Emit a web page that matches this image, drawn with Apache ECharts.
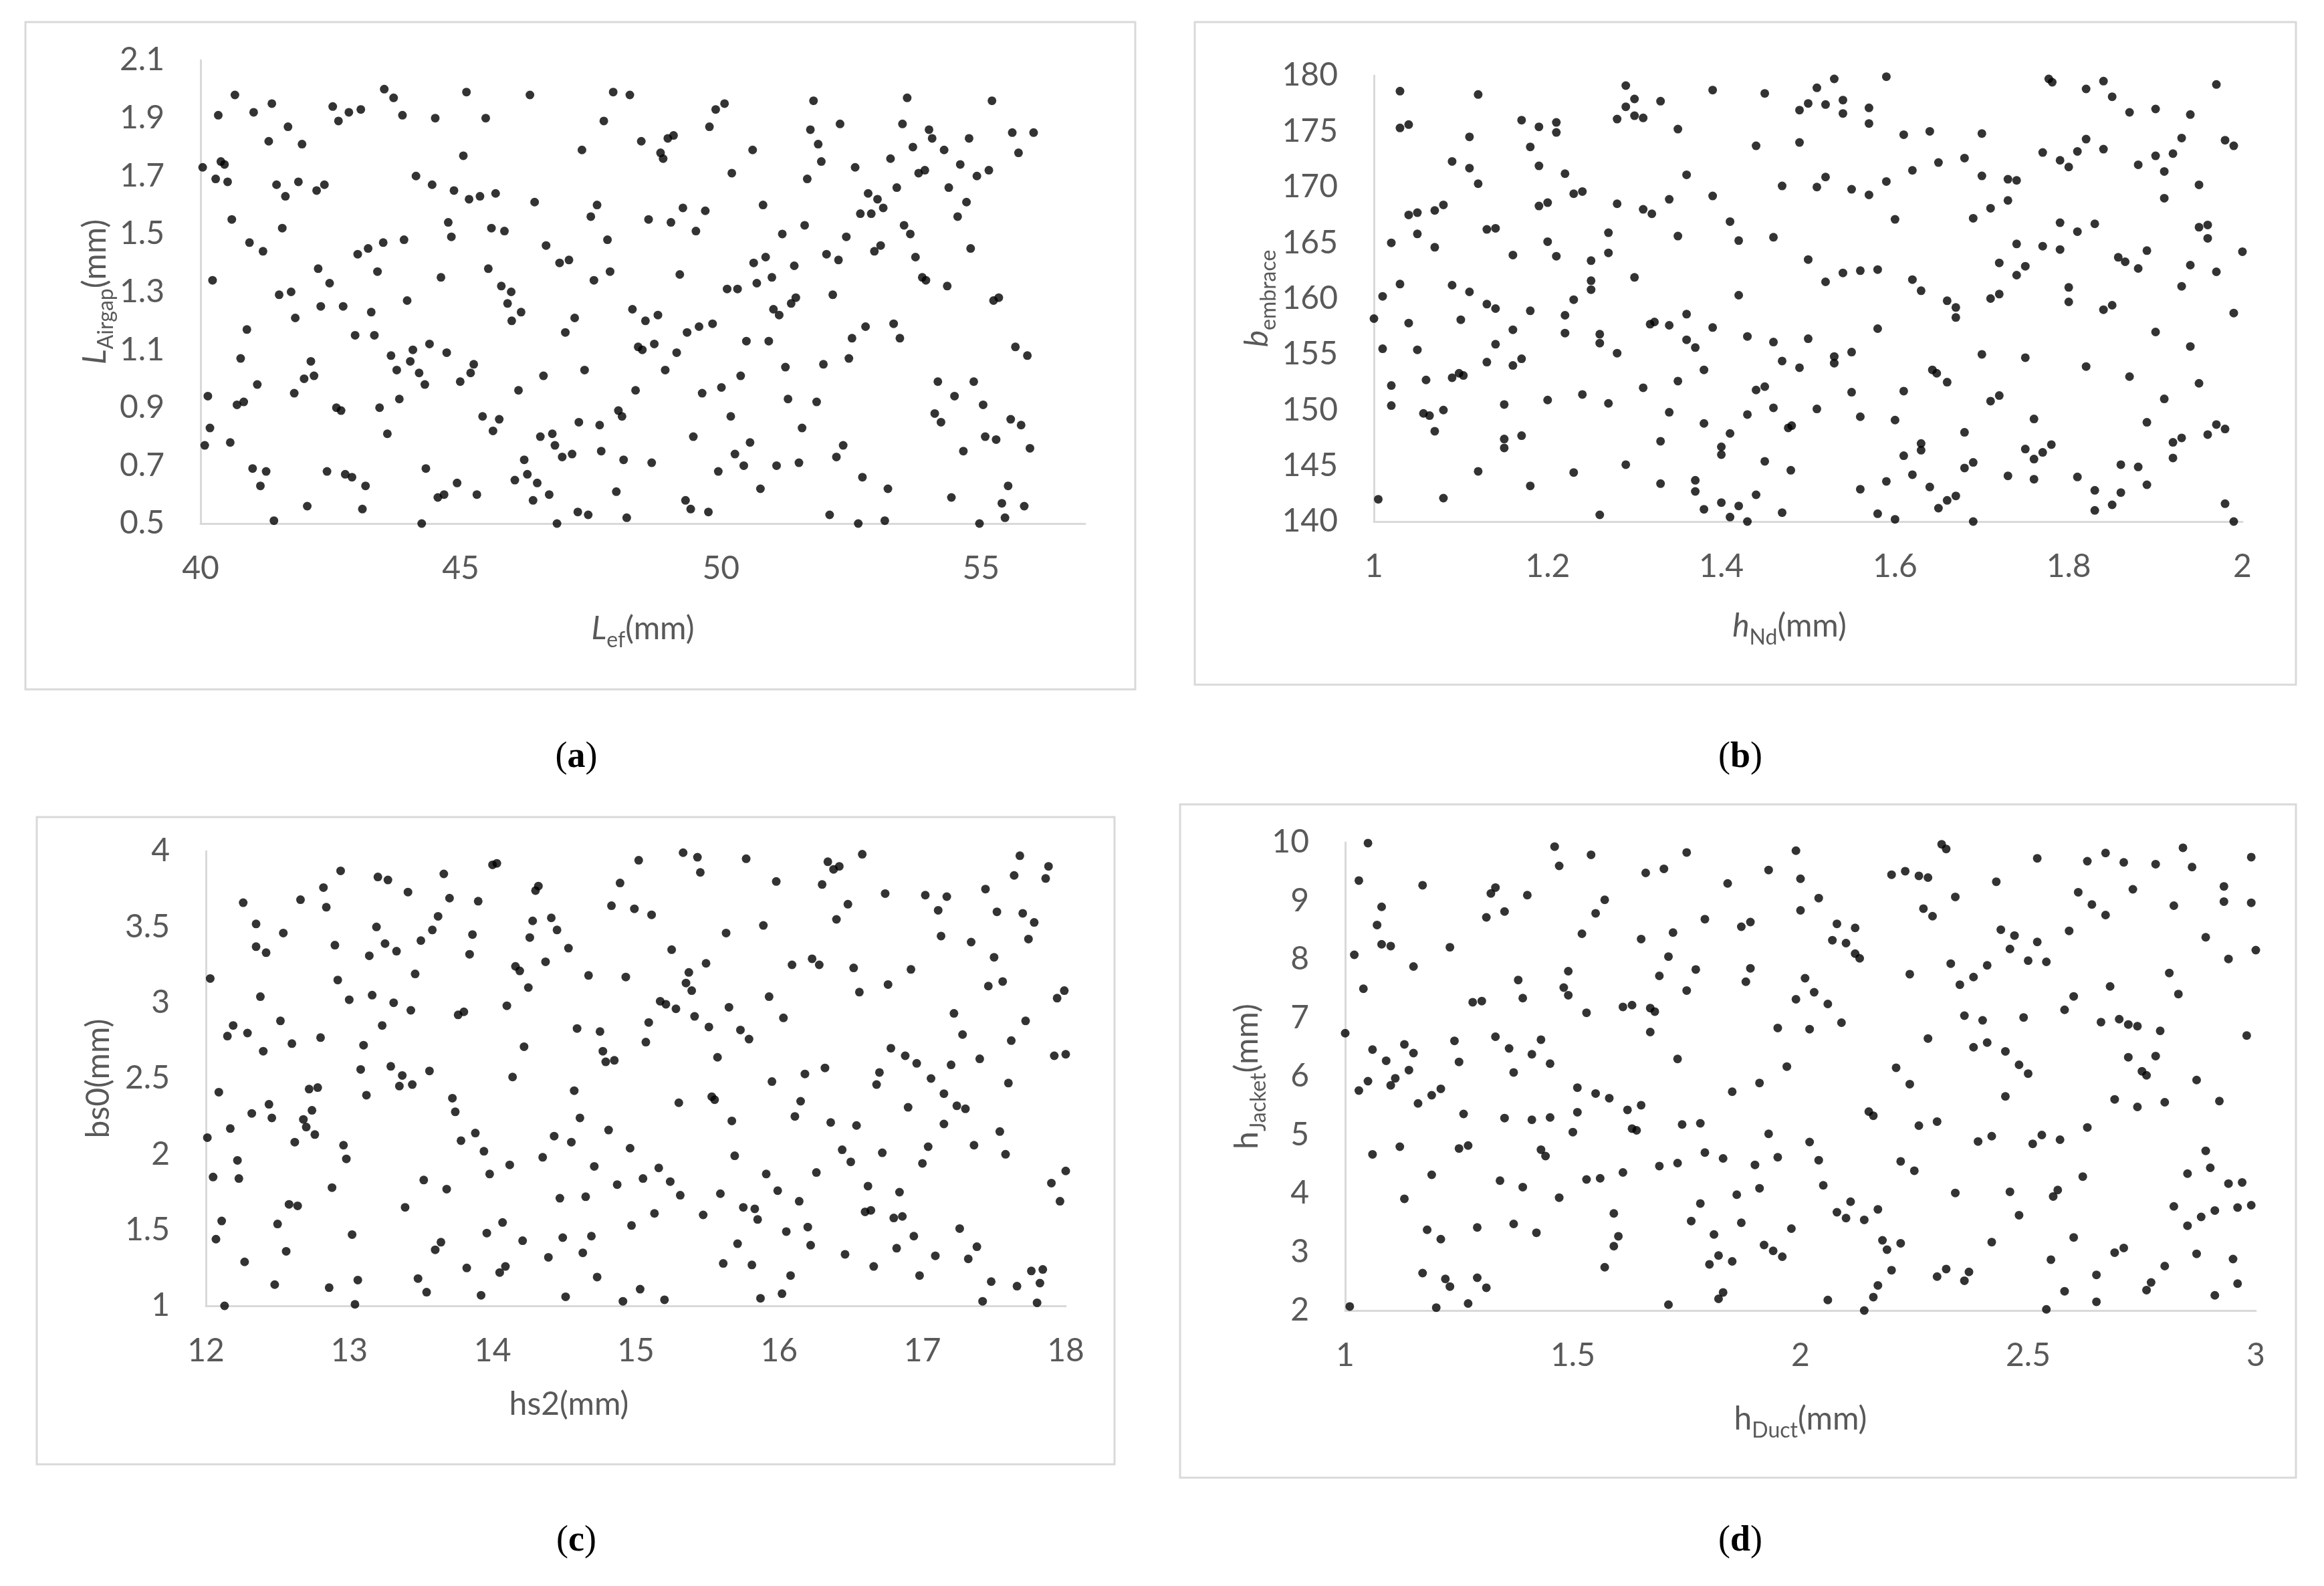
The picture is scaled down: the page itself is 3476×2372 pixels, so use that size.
<!DOCTYPE html>
<html>
<head>
<meta charset="utf-8">
<title>Design variable samples</title>
<script src="https://cdn.jsdelivr.net/npm/echarts@6/dist/echarts.min.js"></script>
<style>
  html, body { margin: 0; padding: 0; background: #ffffff; }
  #chart { width: 3476px; height: 2372px; }
</style>
</head>
<body>
<div id="chart"></div>
<script>
// (a) L_ef (mm) vs L_Airgap (mm)
const lefAirgap = [
  [43.53, 2.00], [47.93, 1.99], [48.25, 1.98], [45.11, 1.99], [40.66, 1.98], [46.33, 1.98], [43.71, 1.97],
  [41.37, 1.95], [42.54, 1.94], [41.02, 1.92], [43.08, 1.93], [42.85, 1.92], [40.34, 1.91], [43.88, 1.91],
  [44.51, 1.90], [45.48, 1.90], [42.65, 1.89], [47.75, 1.89], [41.68, 1.87], [41.31, 1.82], [48.47, 1.82],
  [41.95, 1.81], [47.33, 1.79], [45.05, 1.77], [40.04, 1.73], [40.39, 1.75], [40.46, 1.74], [40.29, 1.69],
  [40.52, 1.68], [44.14, 1.70], [41.46, 1.67], [41.88, 1.68], [42.38, 1.67], [42.23, 1.65], [44.45, 1.67],
  [44.87, 1.65], [45.67, 1.64], [45.16, 1.62], [45.37, 1.63], [41.63, 1.63], [46.42, 1.61], [47.62, 1.60],
  [47.50, 1.56], [40.60, 1.55], [44.76, 1.54], [45.59, 1.52], [45.84, 1.51], [48.61, 1.55], [41.57, 1.52],
  [44.82, 1.49], [40.94, 1.47], [41.20, 1.44], [43.02, 1.43], [43.22, 1.45], [43.51, 1.47], [43.91, 1.48],
  [46.64, 1.46], [47.82, 1.48], [46.90, 1.40], [47.08, 1.41], [42.26, 1.38], [43.40, 1.37], [45.53, 1.38],
  [40.23, 1.34], [44.62, 1.35], [47.56, 1.34], [47.87, 1.37], [42.48, 1.33], [41.51, 1.29], [41.74, 1.30],
  [45.78, 1.32], [45.97, 1.30], [43.97, 1.27], [42.31, 1.25], [42.74, 1.25], [43.28, 1.23], [45.90, 1.26],
  [46.16, 1.23], [41.82, 1.21], [45.98, 1.20], [48.30, 1.24], [48.55, 1.20], [47.19, 1.21], [40.89, 1.17],
  [47.01, 1.16], [42.97, 1.15], [43.34, 1.15], [44.40, 1.12], [44.08, 1.10], [48.41, 1.11], [48.49, 1.10],
  [48.72, 1.12], [40.77, 1.07], [43.66, 1.08], [44.73, 1.09], [42.12, 1.06], [44.03, 1.06], [43.77, 1.03],
  [45.25, 1.05], [45.19, 1.02], [44.20, 1.02], [41.99, 1.00], [42.18, 1.01], [46.59, 1.01], [47.38, 1.03],
  [41.09, 0.98], [44.31, 0.98], [44.99, 0.99], [48.36, 0.96], [40.14, 0.94], [41.80, 0.95], [46.11, 0.96],
  [40.70, 0.91], [40.83, 0.92], [42.61, 0.90], [42.70, 0.89], [43.44, 0.90], [43.82, 0.93], [48.03, 0.89],
  [48.10, 0.87], [45.42, 0.87], [45.74, 0.86], [40.18, 0.83], [43.59, 0.81], [45.62, 0.82], [47.27, 0.85],
  [47.67, 0.84], [46.53, 0.80], [46.76, 0.81], [46.81, 0.77], [40.08, 0.77], [40.57, 0.78], [46.95, 0.73],
  [47.14, 0.74], [47.70, 0.75], [48.13, 0.72], [48.67, 0.71], [46.22, 0.72], [41.00, 0.69], [41.26, 0.68],
  [42.43, 0.68], [44.33, 0.69], [46.28, 0.67], [46.04, 0.65], [46.47, 0.64], [42.78, 0.67], [42.91, 0.66],
  [43.17, 0.63], [44.93, 0.64], [41.15, 0.63], [46.70, 0.60], [47.99, 0.61], [45.31, 0.60], [44.56, 0.59],
  [44.68, 0.60], [46.39, 0.58], [42.05, 0.56], [43.11, 0.55], [47.25, 0.54], [47.45, 0.53], [48.19, 0.52],
  [41.41, 0.51], [44.25, 0.50], [46.85, 0.50],
  [53.58, 1.97], [55.21, 1.96], [50.07, 1.95], [49.90, 1.93], [51.78, 1.96], [49.78, 1.87], [52.29, 1.88],
  [53.49, 1.88], [54.00, 1.86], [54.06, 1.83], [56.01, 1.85], [55.60, 1.85], [54.77, 1.83], [51.72, 1.86],
  [51.87, 1.81], [48.98, 1.83], [49.09, 1.84], [50.61, 1.79], [53.69, 1.80], [55.72, 1.78], [54.29, 1.79],
  [48.84, 1.78], [48.89, 1.76], [53.26, 1.76], [51.93, 1.75], [52.58, 1.73], [53.80, 1.71], [53.92, 1.72],
  [54.60, 1.74], [54.92, 1.70], [55.15, 1.72], [50.21, 1.71], [51.66, 1.69], [54.38, 1.66], [53.38, 1.66],
  [52.83, 1.64], [53.01, 1.62], [53.12, 1.59], [54.72, 1.61], [52.68, 1.57], [52.89, 1.57], [50.81, 1.60],
  [49.27, 1.59], [49.70, 1.58], [49.04, 1.54], [49.52, 1.51], [54.55, 1.56], [51.61, 1.53], [51.18, 1.50],
  [53.52, 1.53], [53.64, 1.50], [52.41, 1.49], [52.95, 1.44], [53.07, 1.46], [54.80, 1.45], [52.03, 1.43],
  [52.26, 1.41], [50.86, 1.42], [50.63, 1.40], [51.41, 1.39], [53.74, 1.42], [49.21, 1.36], [50.98, 1.35],
  [50.69, 1.33], [50.12, 1.31], [50.32, 1.31], [53.87, 1.35], [53.94, 1.34], [54.35, 1.32], [52.15, 1.29],
  [55.24, 1.27], [55.34, 1.28], [51.44, 1.28], [51.35, 1.26], [51.01, 1.24], [51.12, 1.22], [48.79, 1.22],
  [49.35, 1.16], [49.58, 1.18], [49.84, 1.19], [52.78, 1.18], [53.32, 1.19], [53.44, 1.14], [52.52, 1.14],
  [50.49, 1.13], [50.92, 1.13], [49.15, 1.09], [55.66, 1.11], [55.89, 1.08], [52.46, 1.07], [51.97, 1.05],
  [51.24, 1.04], [48.93, 1.03], [50.38, 1.01], [54.17, 0.99], [54.86, 0.99], [54.49, 0.94], [55.04, 0.91],
  [49.64, 0.95], [50.01, 0.97], [51.29, 0.93], [51.84, 0.92], [50.19, 0.87], [54.11, 0.88], [54.23, 0.85],
  [55.57, 0.86], [55.77, 0.84], [51.56, 0.83], [49.47, 0.80], [50.56, 0.78], [55.08, 0.80], [55.29, 0.79],
  [55.94, 0.76], [52.35, 0.77], [52.22, 0.73], [54.66, 0.75], [50.27, 0.74], [50.44, 0.70], [49.95, 0.68],
  [51.07, 0.70], [51.50, 0.71], [52.72, 0.66], [50.76, 0.62], [53.21, 0.62], [55.52, 0.63], [54.43, 0.59],
  [55.40, 0.57], [55.83, 0.56], [49.32, 0.58], [49.42, 0.55], [49.76, 0.54], [52.09, 0.53], [52.64, 0.50],
  [53.15, 0.51], [55.46, 0.52], [54.97, 0.50]
];

// (b) h_Nd (mm) vs b_embrace
const hNdEmbrace = [
  [1.03, 178.6], [1.12, 178.3], [1.29, 179.1], [1.30, 177.9], [1.29, 177.2], [1.39, 178.7], [1.45, 178.4],
  [1.33, 177.7], [1.03, 175.3], [1.04, 175.6], [1.11, 174.5], [1.17, 176.0], [1.19, 175.4], [1.21, 175.8],
  [1.21, 174.9], [1.28, 176.1], [1.30, 176.4], [1.31, 176.2], [1.35, 175.2], [1.18, 173.6], [1.44, 173.7],
  [1.09, 172.3], [1.11, 171.7], [1.19, 171.9], [1.12, 170.3], [1.22, 171.2], [1.36, 171.1], [1.47, 170.1],
  [1.23, 169.4], [1.24, 169.6], [1.39, 169.2], [1.19, 168.3], [1.20, 168.6], [1.28, 168.5], [1.31, 168.0],
  [1.32, 167.6], [1.34, 168.9], [1.04, 167.5], [1.05, 167.7], [1.07, 167.9], [1.08, 168.4], [1.41, 166.9],
  [1.13, 166.2], [1.14, 166.3], [1.05, 165.8], [1.35, 165.6], [1.42, 165.2], [1.46, 165.5], [1.02, 165.0],
  [1.07, 164.6], [1.16, 163.9], [1.20, 165.1], [1.21, 163.8], [1.27, 165.9], [1.27, 164.1], [1.25, 163.4],
  [1.30, 161.9], [1.25, 161.6], [1.25, 160.8], [1.03, 161.3], [1.09, 161.2], [1.11, 160.6], [1.42, 160.3],
  [1.01, 160.2], [1.23, 159.9], [1.13, 159.5], [1.14, 159.1], [1.18, 158.9], [1.00, 158.2], [1.04, 157.8],
  [1.10, 158.1], [1.22, 158.5], [1.318, 157.7], [1.323, 157.9], [1.34, 157.6], [1.36, 158.6], [1.39, 157.4],
  [1.16, 157.2], [1.22, 156.9], [1.26, 156.8], [1.26, 156.0], [1.43, 156.6], [1.46, 156.1], [1.36, 156.3],
  [1.37, 155.6], [1.01, 155.5], [1.05, 155.4], [1.14, 155.9], [1.28, 155.1], [1.13, 154.3], [1.16, 154.0],
  [1.17, 154.6], [1.47, 154.4], [1.38, 153.6], [1.02, 152.2], [1.06, 152.7], [1.09, 152.9], [1.098, 153.3],
  [1.103, 153.1], [1.35, 152.6], [1.31, 152.0], [1.44, 151.8], [1.45, 152.1], [1.02, 150.4], [1.057, 149.7],
  [1.064, 149.5], [1.08, 150.0], [1.15, 150.5], [1.20, 150.9], [1.24, 151.4], [1.27, 150.6], [1.34, 149.8],
  [1.46, 150.2], [1.43, 149.6], [1.38, 148.8], [1.07, 148.1], [1.477, 148.4], [1.481, 148.6], [1.41, 147.9],
  [1.15, 147.4], [1.17, 147.7], [1.15, 146.6], [1.33, 147.2], [1.40, 146.7], [1.40, 146.0], [1.12, 144.5],
  [1.23, 144.4], [1.29, 145.1], [1.45, 145.4], [1.48, 144.6], [1.18, 143.2], [1.33, 143.4], [1.37, 143.7],
  [1.37, 142.7], [1.44, 142.4], [1.005, 142.0], [1.08, 142.1], [1.40, 141.7], [1.42, 141.4], [1.38, 141.1],
  [1.47, 140.8], [1.26, 140.6], [1.41, 140.4], [1.43, 140.0],
  [1.53, 179.7], [1.59, 179.9], [1.777, 179.7], [1.781, 179.4], [1.84, 179.5], [1.82, 178.8], [1.97, 179.2],
  [1.51, 178.9], [1.50, 177.5], [1.52, 177.4], [1.54, 177.8], [1.54, 176.6], [1.49, 176.9], [1.57, 177.1],
  [1.57, 175.7], [1.85, 178.1], [1.87, 176.7], [1.90, 177.0], [1.94, 176.5], [1.49, 174.0], [1.61, 174.7],
  [1.64, 175.0], [1.70, 174.8], [1.82, 174.3], [1.93, 174.4], [1.77, 173.1], [1.79, 172.4], [1.80, 171.8],
  [1.81, 173.2], [1.84, 173.4], [1.88, 172.0], [1.90, 172.8], [1.92, 173.0], [1.91, 171.4], [1.98, 174.2],
  [1.99, 173.7], [1.68, 172.6], [1.65, 172.2], [1.62, 171.5], [1.52, 170.9], [1.51, 170.0], [1.55, 169.8],
  [1.57, 169.3], [1.59, 170.5], [1.70, 171.0], [1.73, 170.7], [1.74, 170.6], [1.95, 170.2], [1.91, 169.0],
  [1.73, 168.8], [1.71, 168.1], [1.69, 167.2], [1.60, 167.1], [1.79, 166.8], [1.81, 166.0], [1.83, 166.7],
  [1.95, 166.4], [1.96, 166.6], [1.96, 165.4], [1.74, 164.9], [1.77, 164.7], [1.79, 164.4], [1.89, 164.3],
  [2.00, 164.2], [1.50, 163.5], [1.72, 163.2], [1.75, 162.9], [1.74, 162.1], [1.857, 163.7], [1.865, 163.3],
  [1.88, 162.7], [1.94, 163.0], [1.97, 162.4], [1.52, 161.5], [1.54, 162.3], [1.56, 162.5], [1.58, 162.6],
  [1.62, 161.7], [1.63, 160.7], [1.93, 161.1], [1.80, 161.0], [1.71, 160.0], [1.72, 160.4], [1.80, 159.7],
  [1.66, 159.8], [1.67, 159.2], [1.67, 158.3], [1.84, 159.0], [1.85, 159.4], [1.99, 158.7], [1.58, 157.3],
  [1.50, 156.4], [1.90, 157.0], [1.94, 155.7], [1.53, 154.8], [1.53, 154.2], [1.55, 155.2], [1.70, 155.0],
  [1.75, 154.7], [1.49, 153.8], [1.82, 153.9], [1.643, 153.6], [1.648, 153.3], [1.66, 152.5], [1.87, 153.0],
  [1.95, 152.4], [1.55, 151.6], [1.61, 151.7], [1.71, 150.8], [1.72, 151.3], [1.51, 150.1], [1.56, 149.4],
  [1.60, 149.1], [1.76, 149.2], [1.91, 151.0], [1.89, 148.9], [1.68, 148.0], [1.97, 148.7], [1.98, 148.3],
  [1.96, 147.8], [1.63, 147.0], [1.63, 146.4], [1.61, 145.9], [1.92, 147.1], [1.93, 147.5], [1.75, 146.5],
  [1.76, 145.6], [1.77, 146.2], [1.78, 146.9], [1.92, 145.7], [1.68, 144.8], [1.69, 145.3], [1.86, 145.1],
  [1.88, 144.9], [1.62, 144.2], [1.59, 143.6], [1.73, 144.1], [1.76, 143.8], [1.81, 144.0], [1.56, 142.9],
  [1.64, 143.1], [1.83, 142.8], [1.89, 143.3], [1.86, 142.6], [1.67, 142.3], [1.66, 141.9], [1.65, 141.2],
  [1.85, 141.5], [1.83, 141.0], [1.98, 141.6], [1.58, 140.7], [1.60, 140.2], [1.69, 140.0], [1.99, 140.0]
];

// (c) hs2 (mm) vs bs0 (mm)
const hs2Bs0 = [
  [14.00, 3.91], [14.03, 3.92], [12.94, 3.87], [13.20, 3.83], [13.27, 3.81], [13.66, 3.85], [14.89, 3.79],
  [12.82, 3.76], [14.30, 3.74], [14.32, 3.77], [13.41, 3.73], [13.70, 3.69], [12.26, 3.66], [12.66, 3.68],
  [13.90, 3.67], [12.84, 3.63], [14.83, 3.64], [12.35, 3.52], [13.19, 3.50], [13.62, 3.57], [14.28, 3.54],
  [14.41, 3.56], [14.45, 3.48], [12.54, 3.46], [13.58, 3.48], [13.86, 3.45], [13.50, 3.41], [14.26, 3.43],
  [12.35, 3.37], [12.42, 3.33], [12.90, 3.38], [13.25, 3.39], [13.33, 3.34], [13.14, 3.31], [13.84, 3.32],
  [14.53, 3.36], [14.37, 3.27], [14.16, 3.24], [14.19, 3.21], [13.46, 3.19], [14.67, 3.18], [14.93, 3.17],
  [12.03, 3.16], [12.92, 3.15], [14.25, 3.10], [12.38, 3.04], [13.00, 3.02], [13.16, 3.05], [13.31, 3.00],
  [13.43, 2.95], [14.10, 2.98], [13.76, 2.92], [13.80, 2.94], [12.52, 2.88], [13.23, 2.85], [12.19, 2.85],
  [12.15, 2.78], [12.29, 2.80], [14.59, 2.83], [14.75, 2.81], [12.80, 2.77], [13.10, 2.72], [12.60, 2.73],
  [12.40, 2.68], [14.22, 2.71], [14.77, 2.68], [14.79, 2.61], [14.85, 2.62], [13.08, 2.56], [13.29, 2.58],
  [13.37, 2.52], [13.56, 2.55], [13.35, 2.45], [13.44, 2.46], [14.14, 2.51], [13.12, 2.39], [12.72, 2.43],
  [12.78, 2.44], [12.09, 2.41], [14.57, 2.42], [13.72, 2.37], [13.74, 2.28], [12.44, 2.33], [12.32, 2.27],
  [12.46, 2.24], [12.74, 2.29], [12.68, 2.23], [12.70, 2.18], [14.61, 2.24], [12.17, 2.17], [12.76, 2.13],
  [14.81, 2.16], [12.01, 2.11], [12.62, 2.08], [13.78, 2.09], [13.88, 2.14], [14.43, 2.12], [14.55, 2.08],
  [12.96, 2.06], [13.94, 2.02], [12.98, 1.97], [14.35, 1.98], [14.71, 1.92], [12.22, 1.96], [14.12, 1.93],
  [12.05, 1.85], [12.23, 1.84], [13.98, 1.87], [13.52, 1.83], [14.87, 1.80], [12.88, 1.78], [13.68, 1.77],
  [12.58, 1.67], [12.64, 1.66], [13.39, 1.65], [14.47, 1.71], [14.65, 1.72], [12.11, 1.56], [12.50, 1.54],
  [14.07, 1.55], [12.07, 1.44], [13.02, 1.47], [13.96, 1.48], [14.21, 1.43], [14.49, 1.45], [14.69, 1.46],
  [13.64, 1.42], [13.60, 1.37], [12.56, 1.36], [14.39, 1.32], [14.63, 1.35], [12.27, 1.29], [13.82, 1.25],
  [14.05, 1.22], [14.09, 1.26], [14.73, 1.19], [12.48, 1.14], [12.86, 1.12], [13.06, 1.17], [13.48, 1.18],
  [13.54, 1.09], [13.92, 1.07], [14.51, 1.06], [14.91, 1.03], [12.13, 1.00], [13.04, 1.01],
  [15.02, 3.94], [15.33, 3.99], [15.43, 3.96], [15.77, 3.95], [15.45, 3.86], [16.34, 3.93], [16.38, 3.88],
  [16.42, 3.90], [16.58, 3.98], [16.30, 3.78], [15.98, 3.80], [17.68, 3.97], [17.88, 3.90], [17.64, 3.84],
  [17.86, 3.82], [16.74, 3.72], [17.02, 3.71], [17.17, 3.70], [17.44, 3.75], [16.48, 3.65], [16.40, 3.55],
  [17.11, 3.61], [17.52, 3.60], [17.70, 3.59], [17.78, 3.53], [14.99, 3.62], [15.11, 3.58], [15.89, 3.51],
  [15.63, 3.46], [17.13, 3.44], [17.34, 3.40], [17.74, 3.42], [15.25, 3.35], [15.49, 3.26], [15.37, 3.20],
  [15.35, 3.13], [15.39, 3.08], [16.09, 3.25], [16.23, 3.29], [16.28, 3.25], [16.52, 3.23], [16.92, 3.22],
  [16.76, 3.12], [17.50, 3.30], [17.56, 3.14], [17.46, 3.11], [15.93, 3.04], [16.56, 3.07], [17.99, 3.08],
  [17.94, 3.03], [15.17, 3.01], [15.21, 2.99], [15.28, 2.96], [15.65, 2.97], [15.41, 2.91], [16.03, 2.90],
  [17.22, 2.93], [15.09, 2.87], [15.51, 2.84], [15.73, 2.82], [15.79, 2.76], [15.07, 2.74], [17.28, 2.79],
  [17.72, 2.88], [17.62, 2.75], [15.57, 2.64], [16.78, 2.70], [16.88, 2.65], [16.96, 2.60], [17.40, 2.63],
  [17.92, 2.65], [18.00, 2.66], [16.32, 2.57], [16.18, 2.53], [15.95, 2.48], [16.70, 2.54], [16.68, 2.46],
  [17.20, 2.59], [17.06, 2.50], [17.60, 2.47], [15.30, 2.34], [15.53, 2.38], [15.55, 2.36], [16.15, 2.35],
  [16.11, 2.25], [17.15, 2.40], [17.24, 2.32], [17.30, 2.30], [16.90, 2.31], [15.67, 2.22], [16.36, 2.21],
  [16.54, 2.19], [17.15, 2.20], [17.54, 2.15], [14.96, 2.04], [15.69, 1.99], [16.44, 2.03], [16.50, 1.95],
  [16.72, 2.01], [17.04, 2.05], [17.00, 1.94], [17.36, 2.06], [17.58, 2.00], [15.16, 1.91], [15.05, 1.84],
  [15.24, 1.82], [15.31, 1.73], [15.59, 1.74], [15.91, 1.87], [15.99, 1.76], [16.26, 1.88], [16.62, 1.79],
  [16.84, 1.75], [17.90, 1.81], [18.00, 1.89], [17.96, 1.69], [16.14, 1.69], [15.75, 1.65], [15.83, 1.64],
  [15.85, 1.57], [15.13, 1.61], [15.47, 1.60], [14.97, 1.53], [16.60, 1.62], [16.64, 1.63], [16.80, 1.58],
  [16.86, 1.59], [16.05, 1.49], [16.20, 1.52], [16.22, 1.40], [15.71, 1.41], [16.94, 1.46], [17.26, 1.51],
  [17.38, 1.39], [16.82, 1.38], [17.32, 1.31], [17.09, 1.33], [16.46, 1.34], [15.61, 1.28], [15.81, 1.27],
  [16.66, 1.26], [16.08, 1.20], [16.98, 1.20], [17.48, 1.16], [17.66, 1.13], [17.76, 1.23], [17.84, 1.24],
  [17.82, 1.15], [15.03, 1.11], [15.20, 1.04], [15.87, 1.05], [16.02, 1.08], [17.42, 1.03], [17.80, 1.02]
];

// (d) h_Duct (mm) vs h_Jacket (mm)
const hDuctJacket = [
  [1.05, 9.99], [1.46, 9.93], [1.54, 9.79], [1.75, 9.83], [1.47, 9.60], [1.66, 9.48], [1.70, 9.55],
  [1.93, 9.53], [1.03, 9.35], [1.17, 9.27], [1.32, 9.13], [1.33, 9.23], [1.40, 9.10], [1.84, 9.30],
  [1.08, 8.90], [1.55, 8.79], [1.57, 9.02], [1.35, 8.82], [1.31, 8.72], [1.79, 8.69], [1.07, 8.59],
  [1.87, 8.56], [1.89, 8.64], [1.52, 8.44], [1.65, 8.35], [1.72, 8.46], [1.08, 8.26], [1.10, 8.23],
  [1.23, 8.21], [1.02, 8.08], [1.71, 8.05], [1.15, 7.88], [1.49, 7.80], [1.77, 7.83], [1.89, 7.85],
  [1.04, 7.50], [1.38, 7.65], [1.39, 7.34], [1.48, 7.52], [1.49, 7.39], [1.69, 7.72], [1.75, 7.47],
  [1.88, 7.62], [1.28, 7.27], [1.30, 7.29], [1.53, 7.09], [1.61, 7.19], [1.63, 7.22], [1.67, 7.17],
  [1.68, 7.11], [1.00, 6.74], [1.67, 6.76], [1.95, 6.83], [1.06, 6.46], [1.13, 6.55], [1.15, 6.40],
  [1.09, 6.27], [1.24, 6.61], [1.25, 6.25], [1.33, 6.68], [1.36, 6.48], [1.41, 6.38], [1.43, 6.63],
  [1.45, 6.22], [1.37, 6.07], [1.73, 6.30], [1.97, 6.17], [1.14, 6.11], [1.05, 5.92], [1.11, 5.97],
  [1.10, 5.85], [1.03, 5.76], [1.21, 5.79], [1.19, 5.68], [1.16, 5.54], [1.51, 5.81], [1.55, 5.71],
  [1.58, 5.63], [1.85, 5.74], [1.91, 5.89], [1.62, 5.43], [1.65, 5.51], [1.51, 5.39], [1.26, 5.36],
  [1.35, 5.29], [1.41, 5.26], [1.45, 5.30], [1.50, 5.05], [1.63, 5.11], [1.64, 5.08], [1.74, 5.18],
  [1.78, 5.20], [1.93, 5.02], [1.06, 4.67], [1.12, 4.80], [1.25, 4.77], [1.27, 4.82], [1.43, 4.75],
  [1.44, 4.64], [1.79, 4.70], [1.83, 4.60], [1.95, 4.62], [1.90, 4.49], [1.69, 4.47], [1.73, 4.52],
  [1.19, 4.32], [1.34, 4.22], [1.39, 4.11], [1.47, 3.93], [1.53, 4.24], [1.56, 4.26], [1.61, 4.36],
  [1.13, 3.91], [1.86, 3.98], [1.91, 4.09], [1.78, 3.83], [1.59, 3.66], [1.76, 3.53], [1.87, 3.50],
  [1.18, 3.38], [1.21, 3.22], [1.29, 3.42], [1.37, 3.48], [1.42, 3.33], [1.60, 3.27], [1.59, 3.10],
  [1.81, 3.30], [1.98, 3.40], [1.92, 3.12], [1.94, 3.02], [1.96, 2.92], [1.82, 2.94], [1.80, 2.79],
  [1.85, 2.84], [1.57, 2.74], [1.17, 2.64], [1.22, 2.54], [1.23, 2.41], [1.29, 2.56], [1.31, 2.39],
  [1.83, 2.31], [1.82, 2.20], [1.01, 2.07], [1.20, 2.05], [1.27, 2.12], [1.71, 2.10],
  [1.99, 9.86], [2.31, 9.97], [2.32, 9.89], [2.52, 9.73], [2.63, 9.68], [2.67, 9.82], [2.71, 9.66],
  [2.78, 9.63], [2.84, 9.91], [2.86, 9.58], [2.99, 9.75], [2.00, 9.38], [2.20, 9.45], [2.23, 9.51],
  [2.26, 9.43], [2.28, 9.40], [2.43, 9.33], [2.73, 9.20], [2.93, 9.25], [2.04, 9.05], [2.34, 9.07],
  [2.61, 9.15], [2.64, 8.94], [2.67, 8.76], [2.82, 8.92], [2.93, 8.99], [2.99, 8.97], [2.00, 8.84],
  [2.27, 8.87], [2.29, 8.74], [2.08, 8.61], [2.12, 8.54], [2.07, 8.33], [2.10, 8.28], [2.12, 8.10],
  [2.13, 8.02], [2.44, 8.51], [2.47, 8.41], [2.46, 8.18], [2.52, 8.30], [2.50, 7.98], [2.54, 7.96],
  [2.59, 8.49], [2.89, 8.38], [3.00, 8.16], [2.94, 8.01], [2.33, 7.93], [2.41, 7.90], [2.24, 7.75],
  [2.35, 7.57], [2.38, 7.70], [2.81, 7.77], [2.83, 7.41], [2.68, 7.54], [2.60, 7.37], [2.58, 7.14],
  [2.01, 7.68], [2.03, 7.44], [1.99, 7.32], [2.06, 7.24], [2.09, 6.92], [2.02, 6.81], [2.36, 7.04],
  [2.40, 6.96], [2.49, 7.01], [2.66, 6.93], [2.70, 6.98], [2.72, 6.89], [2.74, 6.86], [2.79, 6.78],
  [2.98, 6.70], [2.28, 6.65], [2.38, 6.50], [2.41, 6.58], [2.45, 6.43], [2.48, 6.20], [2.50, 6.05],
  [2.72, 6.33], [2.78, 6.35], [2.75, 6.09], [2.76, 6.02], [2.21, 6.15], [2.24, 5.87], [2.87, 5.94],
  [2.45, 5.66], [2.69, 5.61], [2.74, 5.48], [2.80, 5.56], [2.92, 5.58], [2.15, 5.40], [2.16, 5.33],
  [2.26, 5.16], [2.30, 5.23], [2.63, 5.13], [2.02, 4.88], [2.04, 4.57], [2.39, 4.89], [2.42, 4.98],
  [2.51, 4.85], [2.53, 5.00], [2.57, 4.92], [2.89, 4.73], [2.90, 4.44], [2.85, 4.34], [2.22, 4.55],
  [2.25, 4.39], [2.05, 4.14], [2.34, 4.01], [2.46, 4.03], [2.62, 4.29], [2.555, 3.95], [2.565, 4.06],
  [2.94, 4.17], [2.97, 4.19], [2.11, 3.86], [2.08, 3.68], [2.10, 3.58], [2.14, 3.55], [2.17, 3.73],
  [2.48, 3.63], [2.82, 3.78], [2.96, 3.76], [2.99, 3.80], [2.85, 3.45], [2.88, 3.60], [2.91, 3.71],
  [2.18, 3.20], [2.19, 3.04], [2.22, 3.15], [2.42, 3.17], [2.60, 3.25], [2.69, 2.99], [2.71, 3.07],
  [2.87, 2.97], [2.95, 2.88], [2.55, 2.87], [2.20, 2.69], [2.30, 2.58], [2.32, 2.71], [2.36, 2.51],
  [2.37, 2.66], [2.65, 2.61], [2.80, 2.76], [2.58, 2.33], [2.76, 2.35], [2.77, 2.48], [2.96, 2.46],
  [2.17, 2.43], [2.16, 2.23], [2.06, 2.18], [2.14, 2.00], [2.54, 2.02], [2.65, 2.15], [2.91, 2.26]
];

// axis ranges: [min, max, interval]
const xRanges = [[40, 57, 5], [1, 2, 0.2], [12, 18, 1], [1, 3, 0.5]];
const yRanges = [[0.5, 2.1, 0.2], [140, 180, 5], [1, 4, 0.5], [2, 10, 1]];
const xNames = ['{i|L}{s|ef}{n|(mm)}', '{i|h}{s|Nd}{n|(mm)}', '{n|hs2(mm)}', '{n|h}{s|Duct}{n|(mm)}'];
const yNames = ['{i|L}{s|Airgap}{n|(mm)}', '{i|b}{s|embrace}', '{n|bs0(mm)}', '{n|h}{s|Jacket}{n|(mm)}'];
const captions = ['a', 'b', 'c', 'd'];

const fontFamily = 'Lato, "Open Sans", sans-serif';
const textGray = '#595959';
const lineGray = '#d9d9d9';

// plot areas [left, top, width, height] in page pixels
const plotAreas = [[300, 90, 1323, 693], [2055, 113, 1299, 667], [308, 1273, 1286, 680], [2012, 1260, 1362, 700]];
const frames = [[38, 33, 1660, 998], [1787, 33, 1647, 991], [55, 1222, 1612, 968], [1765, 1203, 1669, 1007]];
const captionAt = [[862, 1133], [2603, 1133], [862, 2305], [2603, 2305]];
const xNameGap = [128, 127, 118, 133];
const xNameShift = [0, 56, 200, 0];
const yNameGap = [123, 126, 130, 113];
const seriesData = [lefAirgap, hNdEmbrace, hs2Bs0, hDuctJacket];

const nameRich = {
  n: { fontSize: 48, lineHeight: 60, color: textGray, fontFamily },
  i: { fontSize: 48, lineHeight: 60, color: textGray, fontFamily, fontStyle: 'italic' },
  s: { fontSize: 32, lineHeight: 40, color: textGray, fontFamily, padding: [34, 0, 0, 0] }
};

function axisCommon(range) {
  return {
    type: 'value',
    min: range[0],
    max: range[1],
    interval: range[2],
    axisLine: { show: true, onZero: false, lineStyle: { color: lineGray, width: 3 } },
    axisTick: { show: false },
    splitLine: { show: false },
    nameLocation: 'middle',
    nameTextStyle: { rich: nameRich }
  };
}

const option = {
  animation: false,
  backgroundColor: '#ffffff',
  textStyle: { fontFamily },
  grid: plotAreas.map(a => ({ left: a[0], top: a[1], width: a[2], height: a[3] })),
  xAxis: xRanges.map((range, i) => Object.assign(axisCommon(range), {
    gridIndex: i,
    name: xNames[i],
    nameGap: xNameGap[i],
    nameTextStyle: { rich: nameRich, padding: [0, xNameShift[i], 0, 0] },
    axisLabel: { color: textGray, fontSize: 48, fontFamily, margin: 44, showMaxLabel: i !== 0 }
  })),
  yAxis: yRanges.map((range, i) => Object.assign(axisCommon(range), {
    gridIndex: i,
    name: yNames[i],
    nameGap: yNameGap[i],
    nameRotate: 90,
    axisLabel: { color: textGray, fontSize: 48, fontFamily, margin: 54 }
  })),
  series: seriesData.map((data, i) => ({
    type: 'scatter',
    xAxisIndex: i,
    yAxisIndex: i,
    data,
    symbol: 'circle',
    symbolSize: 13,
    itemStyle: { color: '#000000' },
    silent: true
  })),
  graphic: [
    ...frames.map(f => ({
      type: 'rect',
      silent: true,
      shape: { x: f[0], y: f[1], width: f[2], height: f[3] },
      style: { fill: 'none', stroke: lineGray, lineWidth: 3 }
    })),
    ...captions.map((letter, i) => ({
      type: 'text',
      silent: true,
      x: captionAt[i][0],
      y: captionAt[i][1],
      style: {
        text: '{p|(}{b|' + letter + '}{p|)}',
        align: 'center',
        verticalAlign: 'middle',
        fill: '#000000',
        rich: {
          p: { fontFamily: '"Liberation Serif", serif', fontSize: 54, fill: '#000000' },
          b: { fontFamily: '"Liberation Serif", serif', fontSize: 54, fontWeight: 'bold', fill: '#000000' }
        }
      }
    }))
  ]
};

const chart = echarts.init(document.getElementById('chart'), null, { renderer: 'canvas' });
chart.setOption(option);
window.addEventListener('resize', () => chart.resize());
</script>
</body>
</html>
